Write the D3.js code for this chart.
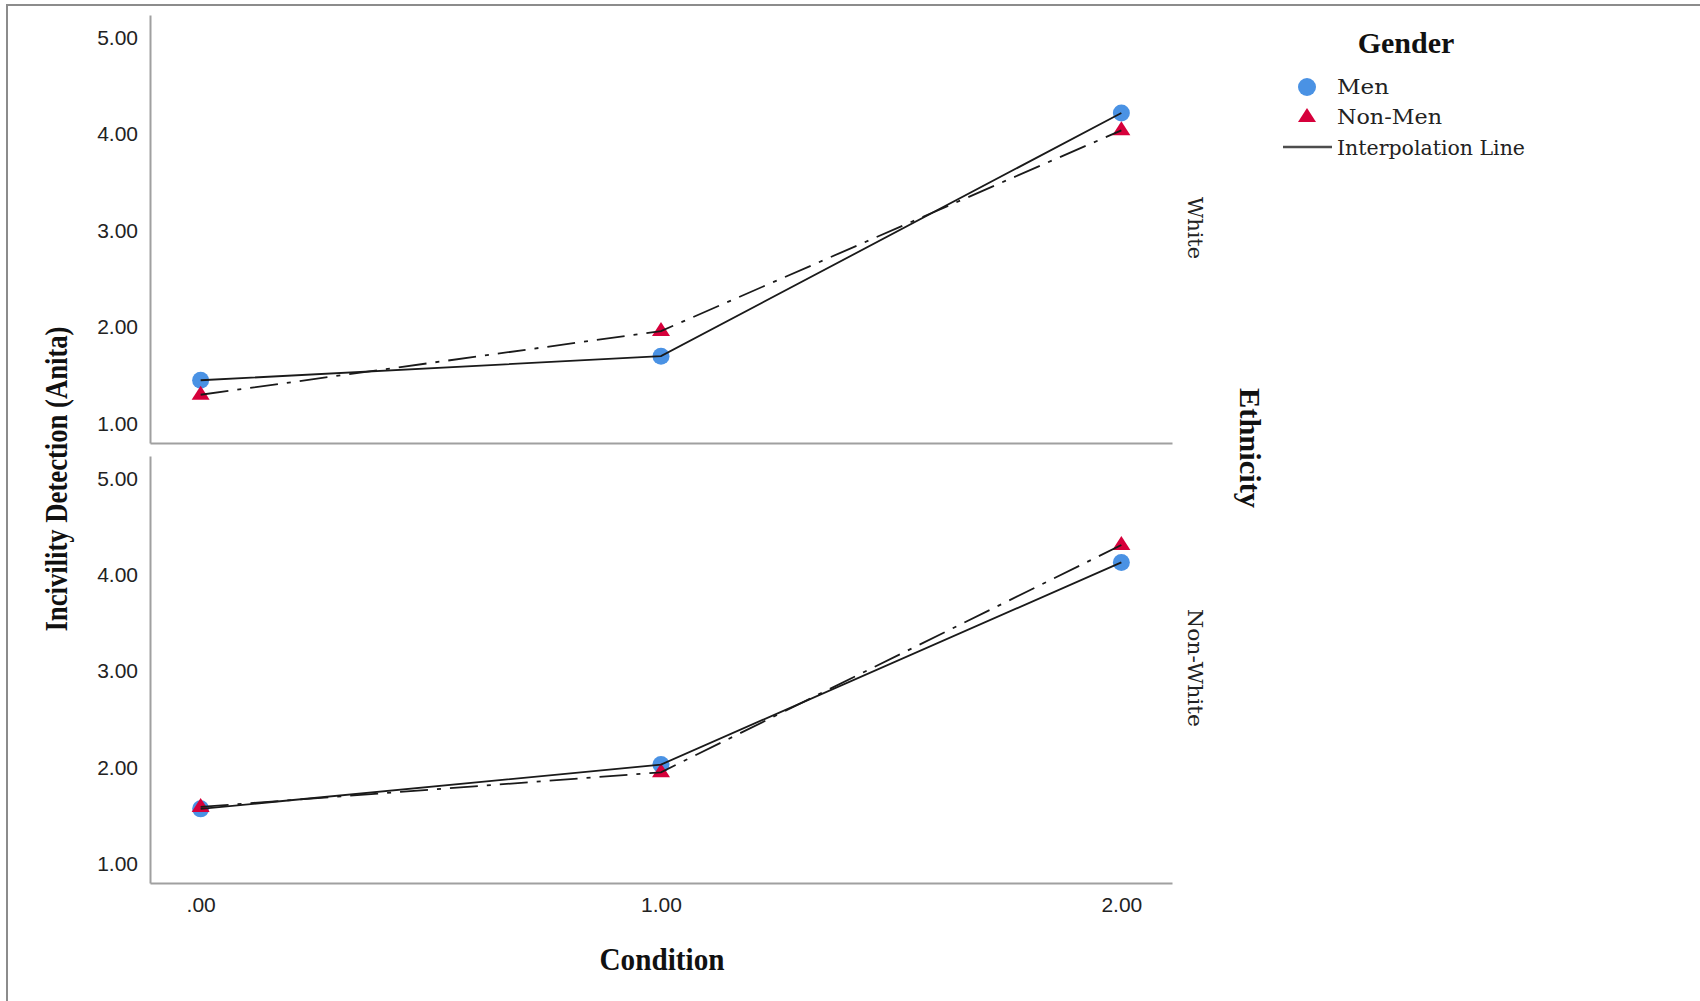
<html>
    <head>
        <title>Incivility Detection by Condition</title>
        <script src="https://d3js.org/d3.v7.min.js"></script>
        <style>
            body { margin: 0; background-color: white; }
        </style>
    </head>
    <body>
        <div id="chart"></div>
    </body>
    <script>
        // values
        var conditions = [0, 1, 2]
        var xTickLabels = [".00", "1.00", "2.00"]
        var yTicks = [1, 2, 3, 4, 5]
        var yTickLabels = ["1.00", "2.00", "3.00", "4.00", "5.00"]
        var ethnicities = ["White", "Non-White"]
        var genders = ["Men", "Non-Men"]
        var whiteMen = [1.45, 1.70, 4.22]
        var whiteNonMen = [1.30, 1.96, 4.04]
        var nonWhiteMen = [1.57, 2.03, 4.13]
        var nonWhiteNonMen = [1.59, 1.95, 4.31]

        var width = 1700, height = 1001

        var svg = d3.select("#chart")
          .append("svg")
            .attr("width", width)
            .attr("height", height)

        // outer frame (runs off the right and bottom edges)
        svg.append("rect")
          .attr("x", 7).attr("y", 5)
          .attr("width", 1800).attr("height", 1100)
          .style("fill", "none")
          .style("stroke", "#8c8c8c")
          .style("stroke-width", 2)

        var x = d3.scaleLinear().domain([-0.11, 2.11]).range([150, 1172])
        var panelRanges = [[443, 15], [883, 456]]
        var panelSeries = [[whiteMen, whiteNonMen], [nonWhiteMen, nonWhiteNonMen]]

        var tickFont = "'Liberation Sans', Arial, sans-serif"
        var labelFont = "'DejaVu Serif', serif"
        var titleFont = "'Liberation Serif', 'Times New Roman', serif"

        var menColor = "#4a92e4", nonMenColor = "#d6003b"
        var triangle = "M0,-9L9,5L-9,5Z"

        panelRanges.forEach(function(r, p) {
          var y = d3.scaleLinear().domain([0.8, 5.235]).range(r)

          // left axis
          var gy = svg.append("g")
            .attr("transform", "translate(150,0)")
            .call(d3.axisLeft(y)
              .tickValues(yTicks)
              .tickFormat(function(d, i) { return yTickLabels[i] })
              .tickSize(0)
              .tickPadding(12))
          gy.select(".domain").style("stroke", "#a0a0a0").style("stroke-width", 2)
          gy.selectAll("text")
            .style("font-family", tickFont)
            .style("font-size", "21px")
            .style("fill", "#222")

          // bottom axis
          var gx = svg.append("g")
            .attr("transform", "translate(0," + r[0] + ")")
            .call(d3.axisBottom(x)
              .tickValues(p == 1 ? conditions : [])
              .tickFormat(function(d, i) { return xTickLabels[i] })
              .tickSize(0)
              .tickPadding(14))
          gx.select(".domain").style("stroke", "#a0a0a0").style("stroke-width", 2)
          gx.selectAll("text")
            .style("font-family", tickFont)
            .style("font-size", "21px")
            .style("fill", "#222")

          var men = panelSeries[p][0], nonMen = panelSeries[p][1]

          // markers first, lines drawn over them
          svg.selectAll("menDot" + p)
            .data(men).enter()
            .append("circle")
              .attr("cx", function(d, i) { return x(conditions[i]) })
              .attr("cy", function(d) { return y(d) })
              .attr("r", 8.5)
              .style("fill", menColor)

          svg.selectAll("nonMenTri" + p)
            .data(nonMen).enter()
            .append("path")
              .attr("d", triangle)
              .attr("transform", function(d, i) { return "translate(" + x(conditions[i]) + "," + y(d) + ")" })
              .style("fill", nonMenColor)

          var line = d3.line()
            .x(function(d, i) { return x(conditions[i]) })
            .y(function(d) { return y(d) })

          svg.append("path")
            .attr("d", line(men))
            .style("fill", "none")
            .style("stroke", "#1a1a1a")
            .style("stroke-width", 1.8)

          svg.append("path")
            .attr("d", line(nonMen))
            .style("fill", "none")
            .style("stroke", "#1a1a1a")
            .style("stroke-width", 1.8)
            .style("stroke-dasharray", "28,9,4,9")
        })

        // panel labels on the right
        var panelLabelY = [228, 668]
        var panelLabelLen = [62, 118]
        ethnicities.forEach(function(e, i) {
          svg.append("text")
            .attr("transform", "translate(1188," + panelLabelY[i] + ") rotate(90)")
            .attr("text-anchor", "middle")
            .attr("textLength", panelLabelLen[i])
            .attr("lengthAdjust", "spacingAndGlyphs")
            .style("font-family", labelFont)
            .style("font-size", "20px")
            .style("fill", "#222")
            .text(e)
        })

        svg.append("text")
          .attr("transform", "translate(1240,448) rotate(90)")
          .attr("text-anchor", "middle")
          .attr("textLength", 120)
          .attr("lengthAdjust", "spacingAndGlyphs")
          .style("font-family", titleFont)
          .style("font-weight", "bold")
          .style("font-size", "29px")
          .style("fill", "#111")
          .text("Ethnicity")

        // axis titles
        svg.append("text")
          .attr("transform", "translate(67,479) rotate(-90)")
          .attr("text-anchor", "middle")
          .attr("textLength", 305)
          .attr("lengthAdjust", "spacingAndGlyphs")
          .style("font-family", titleFont)
          .style("font-weight", "bold")
          .style("font-size", "31px")
          .style("fill", "#111")
          .text("Incivility Detection (Anita)")

        svg.append("text")
          .attr("x", 662).attr("y", 970)
          .attr("text-anchor", "middle")
          .attr("textLength", 125)
          .attr("lengthAdjust", "spacingAndGlyphs")
          .style("font-family", titleFont)
          .style("font-weight", "bold")
          .style("font-size", "31px")
          .style("fill", "#111")
          .text("Condition")

        // legend
        svg.append("text")
          .attr("x", 1406).attr("y", 53)
          .attr("text-anchor", "middle")
          .style("font-family", titleFont)
          .style("font-weight", "bold")
          .style("font-size", "30px")
          .style("fill", "#111")
          .text("Gender")

        svg.append("circle")
          .attr("cx", 1307).attr("cy", 87).attr("r", 9)
          .style("fill", menColor)
        svg.append("path")
          .attr("d", triangle)
          .attr("transform", "translate(1307,117)")
          .style("fill", nonMenColor)
        svg.append("line")
          .attr("x1", 1283).attr("x2", 1332)
          .attr("y1", 147).attr("y2", 147)
          .style("stroke", "#4d4d4d")
          .style("stroke-width", 2.5)

        var legendLabels = genders.concat(["Interpolation Line"])
        var legendBase = [94, 124, 155]
        var legendLen = [52, 105, 188]
        legendLabels.forEach(function(t, i) {
          svg.append("text")
            .attr("x", 1337).attr("y", legendBase[i])
            .attr("textLength", legendLen[i])
            .attr("lengthAdjust", "spacingAndGlyphs")
            .style("font-family", labelFont)
            .style("font-size", "21px")
            .style("fill", "#222")
            .text(t)
        })
    </script>
</html>
